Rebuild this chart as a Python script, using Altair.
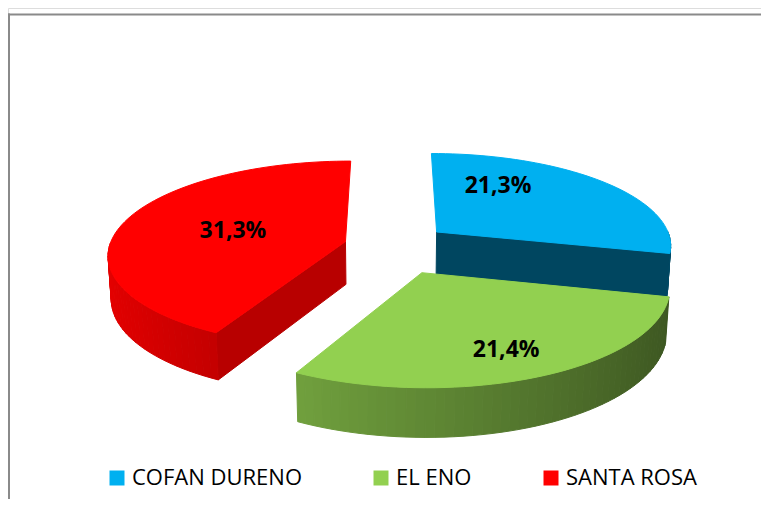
import math
import numpy as np
import pandas as pd
import altair as alt

# ---------------- data ----------------
categories = ["COFAN DURENO", "EL ENO", "SANTA ROSA"]
values = [21.3, 21.4, 31.3]
value_labels = ["21,3%", "21,4%", "31,3%"]
colors = ["#00B0F0", "#92D050", "#FF0000"]

# ---------------- layout / style ----------------
W, H = 753, 491
TILT = math.radians(23.0)
CAM_DIST = 7.0
FOCAL = 1652.0
ORIGIN_X, ORIGIN_Y = 383.0, 238.0
THICK = 0.2
explode = [0.251, 0.306, 0.200]
label_radius = [0.632, 0.764, 0.504]
label_shift_deg = [-23.6, 1.3, -0.4]
cut_shade = [0.40, 0.45, 0.72]

COS_T, SIN_T = math.cos(TILT), math.sin(TILT)


def project(p):
    X, Y, Z = p
    depth = CAM_DIST - (Y * COS_T + Z * SIN_T)
    v = -Y * SIN_T + Z * COS_T
    return ORIGIN_X + FOCAL * X / depth, ORIGIN_Y - FOCAL * v / depth, depth


def dirv(t):
    return np.array([math.sin(t), -math.cos(t), 0.0])


def hex_rgb(h):
    h = h.lstrip("#")
    return [int(h[i:i + 2], 16) for i in (0, 2, 4)]


def darken(h, k):
    return "#%02x%02x%02x" % tuple(int(round(max(0, min(255, c * k)))) for c in hex_rgb(h))


total = float(sum(values))
down = np.array([0.0, 0.0, -THICK])
side_faces = []
top_rows = []
label_rows = []
start = 0.0
for i, (cat, val) in enumerate(zip(categories, values)):
    sweep = 2 * math.pi * val / total
    t0, t1 = start, start + sweep
    start = t1
    tm = (t0 + t1) / 2
    c = explode[i] * dirv(tm)
    n = int(math.degrees(sweep) / 2) + 1
    ts = np.linspace(t0, t1, n + 1)

    # top face
    poly = [c] + [c + dirv(t) for t in ts]
    for k, p in enumerate(poly):
        sx, sy, _ = project(p)
        top_rows.append({"slice": cat, "seq": k, "x": sx, "y": sy})

    # outer curved side, split in strips for shading
    for k in range(n):
        ta, tb = ts[k], ts[k + 1]
        tmid = (ta + tb) / 2
        if -math.cos(tmid) <= 0:
            continue
        quad = [c + dirv(ta), c + dirv(tb), c + dirv(tb) + down, c + dirv(ta) + down]
        kk = 0.41 + 0.49 * (1 - math.sin(tmid)) / 2
        side_faces.append((quad, darken(colors[i], kk)))

    # radial cut faces
    for t, sgn in ((t0, -1), (t1, 1)):
        nrm = dirv(t + sgn * math.pi / 2)
        if nrm[1] <= 0.05:
            continue
        quad = [c, c + dirv(t), c + dirv(t) + down, c + down]
        side_faces.append((quad, darken(colors[i], cut_shade[i])))

    # label
    lp = c + label_radius[i] * dirv(tm + math.radians(label_shift_deg[i]))
    lx, ly, _ = project(lp)
    label_rows.append({"slice": cat, "label": value_labels[i], "x": lx, "y": ly})

# painter's order for side faces (far first)
side_rows = []
scored = []
for quad, col in side_faces:
    pts = [project(p) for p in quad]
    scored.append((np.mean([p[2] for p in pts]), pts, col))
scored.sort(key=lambda s: -s[0])
for fi, (_, pts, col) in enumerate(scored):
    for k, (sx, sy, _) in enumerate(pts):
        side_rows.append({"face": "f%03d" % fi, "seq": k, "x": sx, "y": sy, "col": col})

side_df = pd.DataFrame(side_rows)
top_df = pd.DataFrame(top_rows)
label_df = pd.DataFrame(label_rows)

xs = alt.Scale(domain=[0, W], nice=False, zero=False)
ys = alt.Scale(domain=[H, 0], nice=False, zero=False)

sides = alt.Chart(side_df).mark_line(interpolate="linear-closed", strokeWidth=1).encode(
    x=alt.X("x:Q", scale=xs, axis=None),
    y=alt.Y("y:Q", scale=ys, axis=None),
    detail="face:N",
    order="seq:Q",
    fill=alt.Fill("col:N", scale=None),
    stroke=alt.Stroke("col:N", scale=None),
)

color_scale = alt.Scale(domain=categories, range=colors)
tops = alt.Chart(top_df).mark_line(interpolate="linear-closed", strokeWidth=1).encode(
    x=alt.X("x:Q", scale=xs, axis=None),
    y=alt.Y("y:Q", scale=ys, axis=None),
    order="seq:Q",
    fill=alt.Fill(
        "slice:N",
        scale=color_scale,
        legend=alt.Legend(
            title=None,
            orient="none",
            legendX=98,
            legendY=459,
            direction="horizontal",
            symbolType="square",
            symbolSize=225,
            symbolStrokeWidth=0,
            labelFont="Open Sans",
            labelFontSize=22,
            labelColor="#000000",
            labelOffset=4,
            labelLimit=0,
            columnPadding=68,
        ),
    ),
    stroke=alt.Stroke("slice:N", scale=color_scale, legend=None),
)

labels = alt.Chart(label_df).mark_text(
    font="Open Sans", fontSize=23, fontWeight="bold", color="#000000",
    align="center", baseline="middle",
).encode(
    x=alt.X("x:Q", scale=xs, axis=None),
    y=alt.Y("y:Q", scale=ys, axis=None),
    text="label:N",
)

frame_src = pd.DataFrame({"k": [0]})
frame_top = alt.Chart(frame_src).mark_rule(color="#8a8a8a", strokeWidth=2).encode(
    x=alt.value(0), x2=alt.value(W), y=alt.value(6.5)
)
frame_left = alt.Chart(frame_src).mark_rule(color="#8a8a8a", strokeWidth=2).encode(
    x=alt.value(1), y=alt.value(5.5), y2=alt.value(H)
)

chart = alt.layer(frame_top, frame_left, sides, tops, labels).properties(
    width=W, height=H, padding=0, autosize=alt.AutoSizeParams(type="none")
).configure_view(strokeWidth=0).configure(background="#ffffff")

chart.save("out.html", embed_options={"renderer": "svg", "actions": False})
